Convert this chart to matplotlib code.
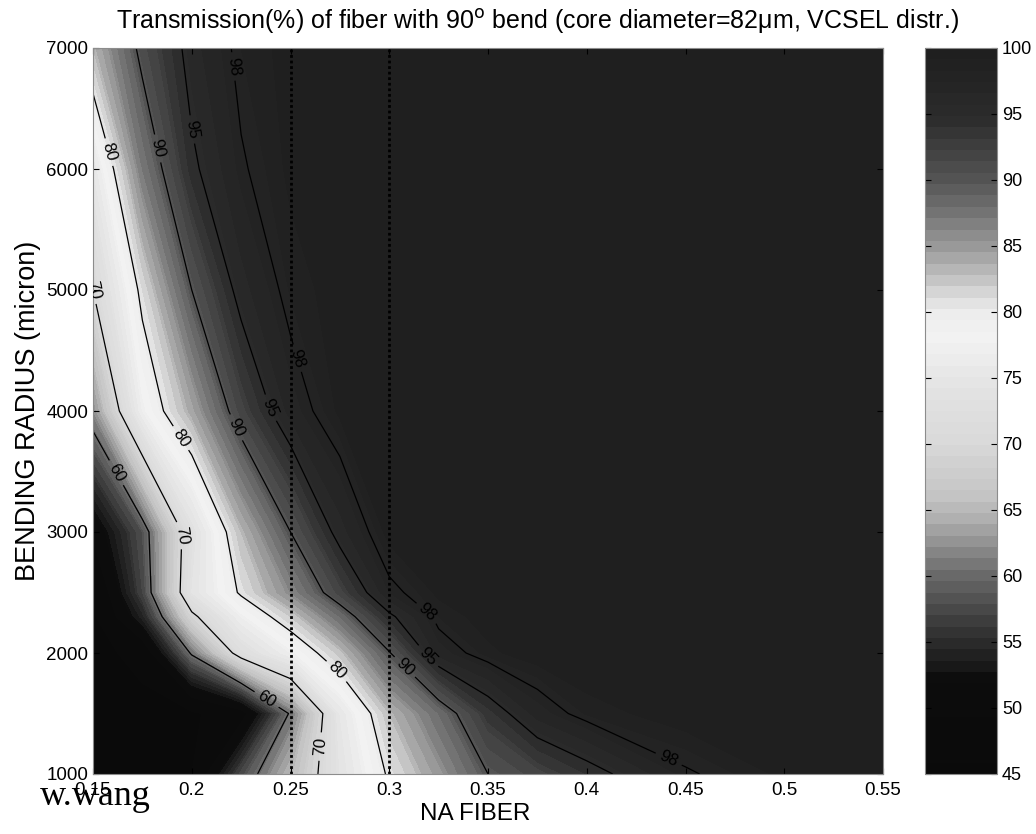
import numpy as np
import matplotlib
matplotlib.use("Agg")
import matplotlib.pyplot as plt
from matplotlib.colors import LinearSegmentedColormap, Normalize
from matplotlib.cm import ScalarMappable

plt.rcParams['font.family'] = ['Liberation Sans', 'DejaVu Sans']

# numerical aperture grid (x) and bending radius grid (y, micron)
na_fiber = [0.15, 0.175, 0.2, 0.225, 0.25, 0.275, 0.3, 0.325, 0.35, 0.375, 0.4, 0.45, 0.5, 0.55]
bend_radius = [1000, 1500, 2000, 2300, 2500, 3000, 4000, 5000, 6000, 7000]

# transmission (%), one row per bending radius
t_r1000 = [45, 45, 46, 57.5, 65, 74, 80.5, 85, 90, 92, 94, 97.8, 99.2, 99.7]
t_r1500 = [45, 45, 45.5, 48, 60.5, 75, 83, 88, 93.5, 97, 98.6, 99.5, 99.8, 99.9]
t_r2000 = [45, 47, 60.5, 72, 77, 82.5, 89.8, 97, 98.8, 99.5, 99.8, 99.9, 100, 100]
t_r2300 = [45.5, 54, 69, 77, 82, 88, 94.5, 98.5, 99.4, 99.7, 99.9, 100, 100, 100]
t_r2500 = [46, 57, 74, 80.5, 86, 92, 97.5, 99.2, 99.6, 99.8, 99.9, 100, 100, 100]
t_r3000 = [50, 58, 73, 83, 90, 96, 99.4, 99.6, 99.8, 99.9, 100, 100, 100, 100]
t_r4000 = [62, 77, 84, 92, 97, 99.2, 99.6, 99.8, 99.9, 100, 100, 100, 100, 100]
t_r5000 = [70, 81, 90, 96, 98.6, 99.4, 99.7, 99.8, 99.9, 100, 100, 100, 100, 100]
t_r6000 = [75, 87, 94.5, 97.8, 99.2, 99.6, 99.8, 99.9, 100, 100, 100, 100, 100, 100]
t_r7000 = [83, 91, 96, 98.5, 99.3, 99.7, 99.9, 100, 100, 100, 100, 100, 100, 100]

line_levels = [60, 70, 80, 90, 95, 98]
marked_na = [0.25, 0.3]

# where the contour labels sit (NA, radius)
label_spots = [(0.156, 6130), (0.180, 6160), (0.198, 6320), (0.217, 6840),
               (0.151, 5190), (0.218, 3830), (0.237, 4010), (0.250, 4420),
               (0.193, 3760), (0.163, 3500), (0.194, 2975), (0.274, 1860),
               (0.240, 1670), (0.270, 1220), (0.304, 1820), (0.317, 1930),
               (0.316, 2270), (0.442, 1140)]

T = np.array([t_r1000, t_r1500, t_r2000, t_r2300, t_r2500, t_r3000,
              t_r4000, t_r5000, t_r6000, t_r7000])
X, Y = np.meshgrid(na_fiber, bend_radius)

# grey map: black below ~52, white near 78, dark again towards 100
gray_pts = [(45, 0.04), (52, 0.05), (53, 0.10), (55, 0.18), (56, 0.22), (58, 0.32),
            (60, 0.42), (62, 0.55), (64, 0.68), (66, 0.77), (70, 0.85), (75, 0.90),
            (78, 0.95), (80, 0.93), (81, 0.88), (83, 0.74), (85, 0.61), (88, 0.44),
            (90, 0.34), (93, 0.24), (95, 0.17), (100, 0.12)]
cmap = LinearSegmentedColormap.from_list(
    "tgray", [((v - 45) / 55, (g, g, g)) for v, g in gray_pts], N=64)
norm = Normalize(45, 100)

fig = plt.figure(figsize=(10.36, 8.34), dpi=100)
ax = fig.add_axes([93 / 1036, 1 - 774 / 834, 790 / 1036, 726 / 834])
cax = fig.add_axes([925 / 1036, 1 - 774 / 834, 72 / 1036, 726 / 834])

ax.contourf(X, Y, T, levels=np.arange(45, 100.01, 0.5), cmap=cmap, norm=norm)
cs = ax.contour(X, Y, T, levels=line_levels, colors='k', linewidths=0.9)
ax.clabel(cs, fmt='%d', fontsize=12, inline=True, manual=label_spots)

for na in marked_na:
    ax.axvline(na, color='k', linestyle=(0, (1, 1)), linewidth=2)

ax.set_xlim(0.15, 0.55)
ax.set_ylim(1000, 7000)
ax.set_xticks([0.15, 0.2, 0.25, 0.3, 0.35, 0.4, 0.45, 0.5, 0.55])
ax.set_xticklabels(['0.15', '0.2', '0.25', '0.3', '0.35', '0.4', '0.45', '0.5', '0.55'])
ax.set_yticks([1000, 2000, 3000, 4000, 5000, 6000, 7000])
ax.tick_params(direction='in', top=True, right=True, labelsize=13.5, length=4)
ax.tick_params(axis='x', pad=6)
for s in ax.spines.values():
    s.set_color('0.55')

ax.set_xlabel('NA FIBER', fontsize=17.5)
ax.xaxis.set_label_coords((475 - 93) / 790, -0.04)
ax.set_ylabel('BENDING RADIUS (micron)', fontsize=19.5, labelpad=4)
fig.text(537 / 1036, 1 - 22 / 834,
         'Transmission(%) of fiber with 90$^{\\rm o}$ bend (core diameter=82\u03bcm, VCSEL distr.)',
         fontsize=18, ha='center', va='center')

cb = fig.colorbar(ScalarMappable(norm=norm, cmap=cmap), cax=cax)
cb.set_ticks(np.arange(45, 101, 5))
cax.tick_params(direction='in', left=True, right=True, labelsize=13, length=4)
cb.outline.set_edgecolor('0.55')

fig.text(40 / 1036, 1 - 805 / 834, 'w.wang', family='Liberation Serif', fontsize=26)

fig.savefig('out.png', dpi=100)
